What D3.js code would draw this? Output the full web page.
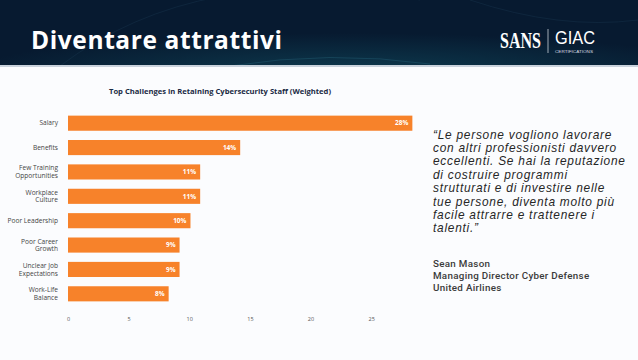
<!DOCTYPE html>
<html><head><meta charset="utf-8">
<script src="https://cdn.jsdelivr.net/npm/d3@7/dist/d3.min.js"></script>
<style>
html,body{margin:0;padding:0;background:#fff;}
svg{display:block;}
</style></head>
<body>
<svg id="c" width="638" height="360"></svg>
<script>
const categories = ["Salary","Benefits","Few Training|Opportunities","Workplace|Culture","Poor Leadership","Poor Career|Growth","Unclear Job|Expectations","Work-Life|Balance"];
const values = [28.4, 14.2, 10.9, 10.9, 10.1, 9.2, 9.2, 8.3];
const valueLabels = ["28%","14%","11%","11%","10%","9%","9%","8%"];
const ticks = [0,5,10,15,20,25];
const title = "Diventare attrattivi";
const chartTitle = "Top Challenges in Retaining Cybersecurity Staff (Weighted)";
const quoteLines = ["\u201CLe persone vogliono lavorare","con altri professionisti davvero","eccellenti. Se hai la reputazione","di costruire programmi","strutturati e di investire nelle","tue persone, diventa molto pi\u00F9","facile attrarre e trattenere i","talenti.\u201D"];
const attribution = ["Sean Mason","Managing Director Cyber Defense","United Airlines"];

const svg = d3.select("#c");
const defs = svg.append("defs");
const hg = defs.append("radialGradient").attr("id","hg").attr("cx","0.55").attr("cy","1.1").attr("r","0.6");
hg.append("stop").attr("offset","0").attr("stop-color","#0d3a4e");
hg.append("stop").attr("offset","1").attr("stop-color","#071a30");

// page background
svg.append("rect").attr("width",638).attr("height",360).attr("fill","#fbfcfe");
// header
svg.append("rect").attr("width",638).attr("height",66).attr("fill","#081b31");
svg.append("rect").attr("width",638).attr("height",66).attr("fill","url(#hg)");
svg.append("path").attr("d","M60,66 Q200,-40 420,0").attr("fill","none").attr("stroke","#1d3a55").attr("stroke-width",0.6).attr("opacity",0.6);
svg.append("path").attr("d","M230,66 Q330,50 430,64").attr("fill","none").attr("stroke","#2a6a80").attr("stroke-width",0.6).attr("opacity",0.6);
svg.append("path").attr("d","M470,0 Q560,30 638,20").attr("fill","none").attr("stroke","#1d3a55").attr("stroke-width",0.6).attr("opacity",0.6);
svg.append("rect").attr("y",65).attr("width",638).attr("height",2).attr("fill","#c9d2dc");

svg.append("text").attr("x",31).attr("y",48.5).text(title)
  .attr("fill","#fff").attr("font-family","'Open Sans', 'Noto Sans', sans-serif").attr("font-weight",700).attr("font-size",24.5).attr("letter-spacing",0.6);

// logo
svg.append("text").attr("x",500).attr("y",48).text("SANS")
  .attr("fill","#fff").attr("font-family","'Liberation Serif', serif").attr("font-size",23).attr("font-weight",700)
  .attr("textLength",41).attr("lengthAdjust","spacingAndGlyphs");
svg.append("line").attr("x1",548).attr("x2",548).attr("y1",29).attr("y2",53).attr("stroke","#c8d0d8").attr("stroke-width",0.8);
svg.append("text").attr("x",555).attr("y",43.8).text("GIAC")
  .attr("fill","#fff").attr("font-family","'Liberation Sans', sans-serif").attr("font-size",17.5)
  .attr("textLength",40).attr("lengthAdjust","spacingAndGlyphs");
svg.append("text").attr("x",555).attr("y",53.2).text("CERTIFICATIONS")
  .attr("fill","#d8dde3").attr("font-family","'Liberation Sans', sans-serif").attr("font-size",4)
  .attr("textLength",38).attr("lengthAdjust","spacingAndGlyphs");

// chart
const x = d3.scaleLinear().domain([0,28.7]).range([68,416]);
const y = d3.scaleBand().domain(categories).range([111,306]).paddingInner(0.38).paddingOuter(0.19);

svg.append("text").attr("x",220).attr("y",94).attr("text-anchor","middle").text(chartTitle)
  .attr("fill","#1a2a44").attr("font-family","'Open Sans', sans-serif").attr("font-weight",700).attr("font-size",7.6);

const g = svg.append("g");
g.selectAll("rect.bar").data(categories).join("rect").attr("class","bar")
  .attr("x",x(0)).attr("y",d=>y(d)).attr("height",y.bandwidth())
  .attr("width",(d,i)=>x(values[i])-x(0)).attr("fill","#f7822a");

g.selectAll("text.val").data(categories).join("text").attr("class","val")
  .attr("x",(d,i)=>x(values[i])-4).attr("y",d=>y(d)+y.bandwidth()/2+2.3)
  .attr("text-anchor","end").text((d,i)=>valueLabels[i])
  .attr("fill","#fff").attr("font-family","'Open Sans', sans-serif").attr("font-weight",700).attr("font-size",6.5);

g.selectAll("text.cat").data(categories).join("text").attr("class","cat")
  .attr("text-anchor","end").attr("font-family","'Open Sans', sans-serif").attr("font-size",6.6).attr("fill","#444")
  .each(function(d){
    const parts = d.split("|");
    const t = d3.select(this);
    const cy = y(d)+y.bandwidth()/2;
    parts.forEach((p,j)=>{
      t.append("tspan").attr("x",58).attr("y",cy+2.3+(j-(parts.length-1)/2)*7.6).text(p);
    });
  });

const ax = svg.append("g").attr("transform","translate(0,317)")
  .call(d3.axisBottom(x).tickValues(ticks).tickSize(0).tickPadding(0));
ax.select(".domain").remove();
ax.selectAll("text").attr("fill","#555").attr("font-family","'Open Sans', sans-serif").attr("font-size",5.5);

// quote
svg.append("g").selectAll("text").data(quoteLines).join("text")
  .attr("x",433).attr("y",(d,i)=>138.5+i*13.4).text(d=>d)
  .attr("font-family","'Liberation Sans', Arial, sans-serif").attr("font-style","italic")
  .attr("font-size",11.9).attr("letter-spacing",0.75).attr("fill","#262626");

svg.append("g").selectAll("text").data(attribution).join("text")
  .attr("x",433).attr("y",(d,i)=>266.7+i*12).text(d=>d)
  .attr("font-family","Roboto, sans-serif").attr("font-size",9.8).attr("font-weight",500)
  .attr("letter-spacing",0.3).attr("fill","#3a3a3a");
</script>
</body></html>
